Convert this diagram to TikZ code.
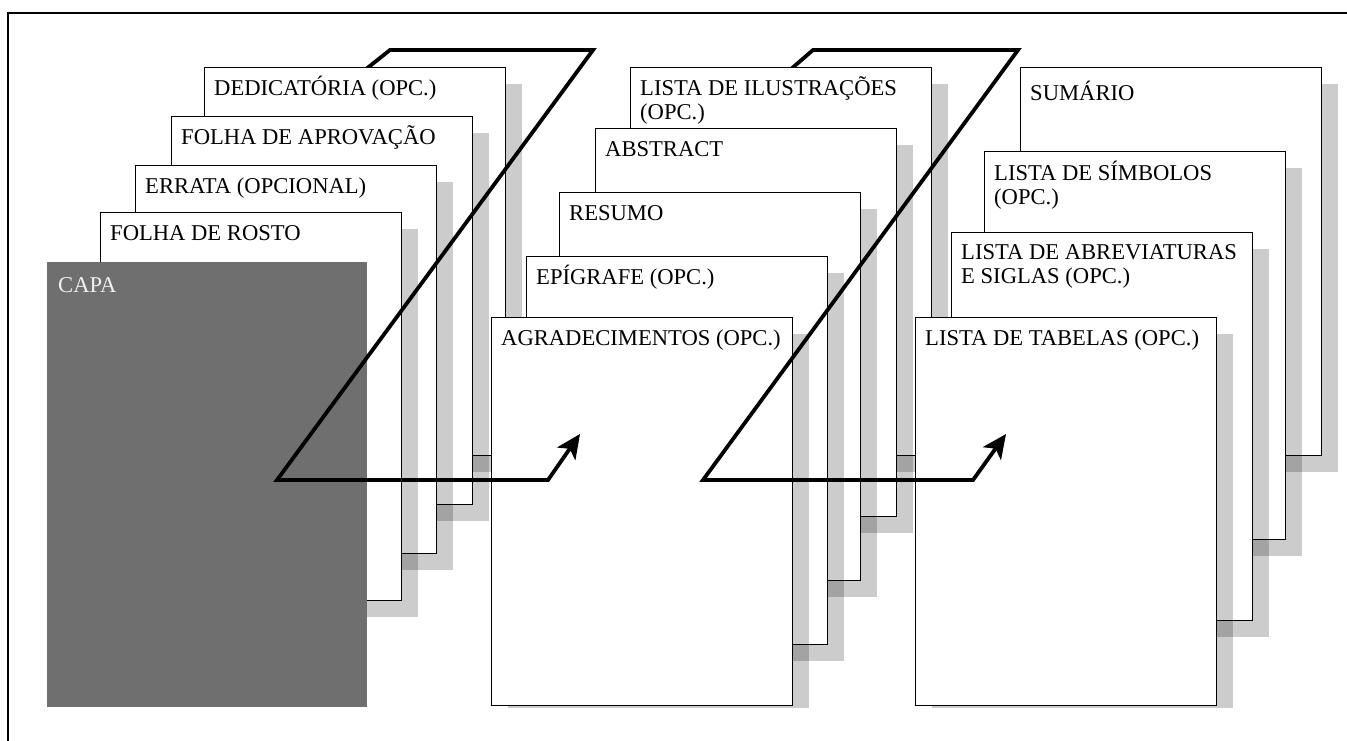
\documentclass[tikz,border=0pt]{standalone}
\usepackage{fontspec}
\setmainfont{Liberation Serif}
\usetikzlibrary{arrows.meta,shadows}

\definecolor{capacinza}{HTML}{6F6F6F}

\tikzset{
  folha/.style={draw=black, line width=1.2pt, fill=white, anchor=north west,
    minimum width=301pt, minimum height=388pt, inner sep=0pt,
    drop shadow={shadow xshift=16pt, shadow yshift=-16pt, fill=black, opacity=0.2}},
  capa/.style={fill=capacinza, anchor=north west, inner sep=0pt,
    minimum width=320pt, minimum height=445pt},
  rotulo/.style={anchor=base west, inner sep=0pt, align=left,
    font=\fontsize{22.6}{24}\selectfont},
  seta/.style={line width=3.8pt, line join=miter},
  ponta/.style={-{Stealth[length=24pt, width=22pt, inset=6pt]}},
}

\begin{document}
\begin{tikzpicture}[x=1pt, y=-1pt]
   \useasboundingbox (0,0) rectangle (1347,740);

   % moldura (so esquerda e topo)
   \draw[line width=1.3pt] (8,742) -- (8,13) -- (1349,13);

   % pontos das setas em Z
   \coordinate (z1a) at (356,77);
   \coordinate (z1b) at (390,50);
   \coordinate (z1c) at (593,50);
   \coordinate (z1d) at (277,480);
   \coordinate (z1e) at (548,480);
   \coordinate (z1f) at (580,434);
   \coordinate (z2a) at (783,76);
   \coordinate (z2b) at (813,50);
   \coordinate (z2c) at (1018,50);
   \coordinate (z2d) at (703,480);
   \coordinate (z2e) at (973,480);
   \coordinate (z2f) at (1006,434);

   % pontas das setas que ficam atras das folhas
   \draw[seta] (z1a) -- (z1b) -- (z1c);
   \draw[seta] (z2a) -- (z2b) -- (z2c);

   \begin{scope}
   \clip (0,0) rectangle (1347,707);

   % primeiro bloco, de tras para frente
   % (\b = distancia do topo da folha ate a linha de base da ultima linha)
   \foreach \n/\x/\y/\b/\txt in {
      ded/204/67/28/{DEDICATÓRIA (OPC.)},
      aprov/171/116/28/{FOLHA DE APROVAÇÃO},
      errata/135/165/28/{ERRATA (OPCIONAL)},
      rosto/100/212/28/{FOLHA DE ROSTO}}
   {
      \node[folha] (\n) at (\x,\y) {};
      \node[rotulo] (\n-txt) at ([shift={(10,\b)}]\n.north west) {\txt};
   }

   \node[capa] (capa) at (47,262) {};
   \node[rotulo, text=white!94!black] (capa-txt) at ([shift={(11,30)}]capa.north west) {CAPA};

   % segundo bloco
   \foreach \n/\x/\y/\b/\txt in {
      ilust/630/67/52/{LISTA DE ILUSTRAÇÕES\\(OPC.)},
      abstract/595/128/28/{ABSTRACT},
      resumo/559/192/28/{RESUMO},
      epig/526/256/28/{EPÍGRAFE (OPC.)},
      agrad/491/317/28/{AGRADECIMENTOS (OPC.)}}
   {
      \node[folha] (\n) at (\x,\y) {};
      \node[rotulo] (\n-txt) at ([shift={(10,\b)}]\n.north west) {\txt};
   }

   \draw[seta, ponta] (z1b) -- (z1c) -- (z1d) -- (z1e) -- (z1f);

   % terceiro bloco
   \foreach \n/\x/\y/\b/\txt in {
      sumario/1020/67/33/{SUMÁRIO},
      simb/984/151/53/{LISTA DE SÍMBOLOS\\(OPC.)},
      abrev/951/232/51/{LISTA DE ABREVIATURAS\\E SIGLAS (OPC.)},
      tab/915/317/28/{LISTA DE TABELAS (OPC.)}}
   {
      \node[folha] (\n) at (\x,\y) {};
      \node[rotulo] (\n-txt) at ([shift={(10,\b)}]\n.north west) {\txt};
   }
   \end{scope}

   \draw[seta, ponta] (z2b) -- (z2c) -- (z2d) -- (z2e) -- (z2f);
\end{tikzpicture}
\end{document}
